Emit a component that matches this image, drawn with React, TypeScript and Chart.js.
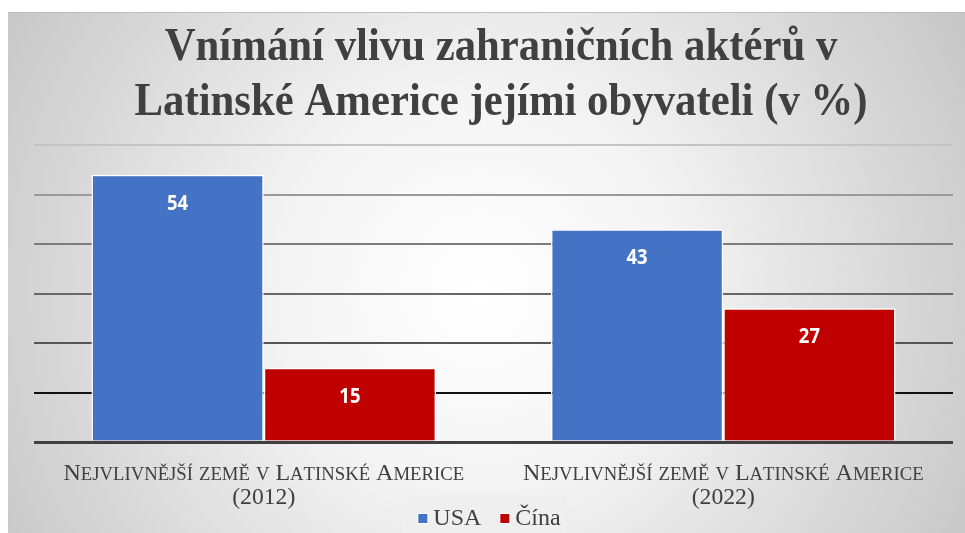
import React, { useEffect, useRef } from "react";
import { Chart, registerables } from "chart.js";

Chart.register(...registerables);

const titleLines = ["Vnímání vlivu zahraničních aktérů v", "Latinské Americe jejími obyvateli (v %)"];
const categories: string[][] = [
  ["Nejvlivnější země v Latinské Americe", "(2012)"],
  ["Nejvlivnější země v Latinské Americe", "(2022)"],
];
const seriesNames = ["USA", "Čína"];
const usaValues = [54, 43];
const chinaValues = [15, 27];
const seriesColors = ["#4472C4", "#C00000"];
const yTicks = [0, 10, 20, 30, 40, 50, 60];
const gridColors: Record<number, string> = {
  0: "#404040",
  10: "#111111",
  20: "#555555",
  30: "#686868",
  40: "#7c7c7c",
  50: "#9a9a9a",
  60: "#c4c4c4",
};

const TEXT = "#404040";
const SERIF = "'Liberation Serif', 'Times New Roman', serif";

function drawScaled(ctx: CanvasRenderingContext2D, text: string, x: number, y: number, sx: number, align: CanvasTextAlign) {
  ctx.save();
  ctx.translate(x, y);
  ctx.scale(sx, 1);
  ctx.textAlign = align;
  ctx.fillText(text, 0, 0);
  ctx.restore();
}

// manual small caps: uppercase letters at full size, lowercase letters as capitals at a smaller size
function drawSmallCaps(ctx: CanvasRenderingContext2D, text: string, cx: number, y: number, size: number, ratio: number) {
  const big = `${size}px ${SERIF}`;
  const small = `${size * ratio}px ${SERIF}`;
  const parts = Array.from(text).map((ch) => {
    const up = ch.toUpperCase();
    const isLower = ch !== up;
    ctx.font = isLower ? small : big;
    const s = isLower ? up : ch;
    return { s, font: isLower ? small : big, w: ctx.measureText(s).width };
  });
  const total = parts.reduce((a, p) => a + p.w, 0);
  let x = cx - total / 2;
  ctx.textAlign = "left";
  parts.forEach((p) => {
    ctx.font = p.font;
    ctx.fillText(p.s, x, y);
    x += p.w;
  });
}

const decorPlugin = {
  id: "decor",
  beforeDraw(chart: any) {
    const { ctx, width, height } = chart;
    ctx.save();
    ctx.fillStyle = "#ffffff";
    ctx.fillRect(0, 0, width, height);
    const g = ctx.createRadialGradient(480, 290, 0, 480, 290, 560);
    g.addColorStop(0, "#ffffff");
    g.addColorStop(0.35, "#f4f4f4");
    g.addColorStop(1, "#c6c6c6");
    ctx.fillStyle = g;
    ctx.fillRect(8, 13, width - 8, height - 13);
    ctx.strokeStyle = "#bdbdbd";
    ctx.lineWidth = 1;
    ctx.beginPath();
    ctx.moveTo(8, 12.5);
    ctx.lineTo(width, 12.5);
    ctx.stroke();
    // legend box
    ctx.fillStyle = "rgba(238,238,238,0.9)";
    ctx.fillRect(403, 495, 163, 38);
    ctx.restore();
  },
  afterDraw(chart: any) {
    const { ctx } = chart;
    ctx.save();
    ctx.fillStyle = TEXT;
    ctx.textBaseline = "alphabetic";
    // title
    ctx.font = `bold 46px ${SERIF}`;
    drawScaled(ctx, titleLines[0], 501, 60, 0.93, "center");
    drawScaled(ctx, titleLines[1], 501, 115, 0.93, "center");

    // category labels
    const xScale = chart.scales.x;
    categories.forEach((lines, i) => {
      const cx = xScale.getPixelForTick(i);
      drawSmallCaps(ctx, lines[0], cx, 480, 24, 0.78);
      ctx.font = `23px ${SERIF}`;
      drawScaled(ctx, lines[1], cx, 504, 1.03, "center");
    });

    // data labels
    ctx.fillStyle = "#ffffff";
    ctx.font = "bold 21px 'Open Sans'";
    ctx.textBaseline = "middle";
    chart.data.datasets.forEach((ds: any, di: number) => {
      const meta = chart.getDatasetMeta(di);
      meta.data.forEach((el: any, j: number) => {
        drawScaled(ctx, String(ds.data[j]), el.x, el.y + 29, 0.88, "center");
      });
    });

    // legend
    ctx.font = `24px ${SERIF}`;
    ctx.textBaseline = "alphabetic";
    const sq = 9;
    const gap = 6;
    const between = 19;
    const widths = chart.data.datasets.map((ds: any) => ctx.measureText(ds.label).width);
    const total = widths.reduce((a: number, w: number) => a + sq + gap + w, 0) + between * (widths.length - 1);
    let x = 489.5 - total / 2;
    const baseY = 525;
    chart.data.datasets.forEach((ds: any, i: number) => {
      ctx.fillStyle = "#ffffff";
      ctx.fillRect(x - 1, 513, sq + 2, sq + 2);
      ctx.fillStyle = ds.backgroundColor;
      ctx.fillRect(x, 514, sq, sq);
      x += sq + gap;
      ctx.fillStyle = TEXT;
      ctx.textAlign = "left";
      ctx.fillText(ds.label, x, baseY);
      x += widths[i] + between;
    });
    ctx.restore();
  },
};

export default function App() {
  const ref = useRef<HTMLCanvasElement | null>(null);
  useEffect(() => {
    if (!ref.current) return;
    const chart = new Chart(ref.current, {
      type: "bar",
      data: {
        labels: categories.map((c) => c.join(" ")),
        datasets: [
          {
            label: seriesNames[0],
            data: usaValues,
            backgroundColor: seriesColors[0],
            borderColor: "#ffffff",
            borderWidth: 1.5,
          },
          {
            label: seriesNames[1],
            data: chinaValues,
            backgroundColor: seriesColors[1],
            borderColor: "#ffffff",
            borderWidth: 1.5,
          },
        ],
      },
      options: {
        animation: false,
        responsive: false,
        maintainAspectRatio: false,
        layout: { padding: { left: 34, right: 12, top: 145, bottom: 91 } },
        plugins: {
          legend: { display: false },
          title: { display: false },
          tooltip: { enabled: false },
        },
        datasets: { bar: { categoryPercentage: 0.75, barPercentage: 1 } },
        scales: {
          x: { display: false, grid: { display: false } },
          y: {
            min: 0,
            max: 60,
            afterBuildTicks: (scale: any) => {
              scale.ticks = yTicks.map((v) => ({ value: v }));
            },
            ticks: { display: false },
            border: { display: false },
            grid: {
              drawTicks: false,
              color: (c: any) => gridColors[c.tick?.value] ?? "#888",
              lineWidth: (c: any) => (c.tick?.value === 0 ? 3 : 2),
            },
          },
        },
      },
      plugins: [decorPlugin],
    });
    return () => chart.destroy();
  }, []);
  return (
    <div style={{ position: "fixed", left: 0, top: 0, width: 965, height: 533 }}>
      <canvas ref={ref} width={965} height={533} style={{ width: 965, height: 533, display: "block" }} />
    </div>
  );
}
